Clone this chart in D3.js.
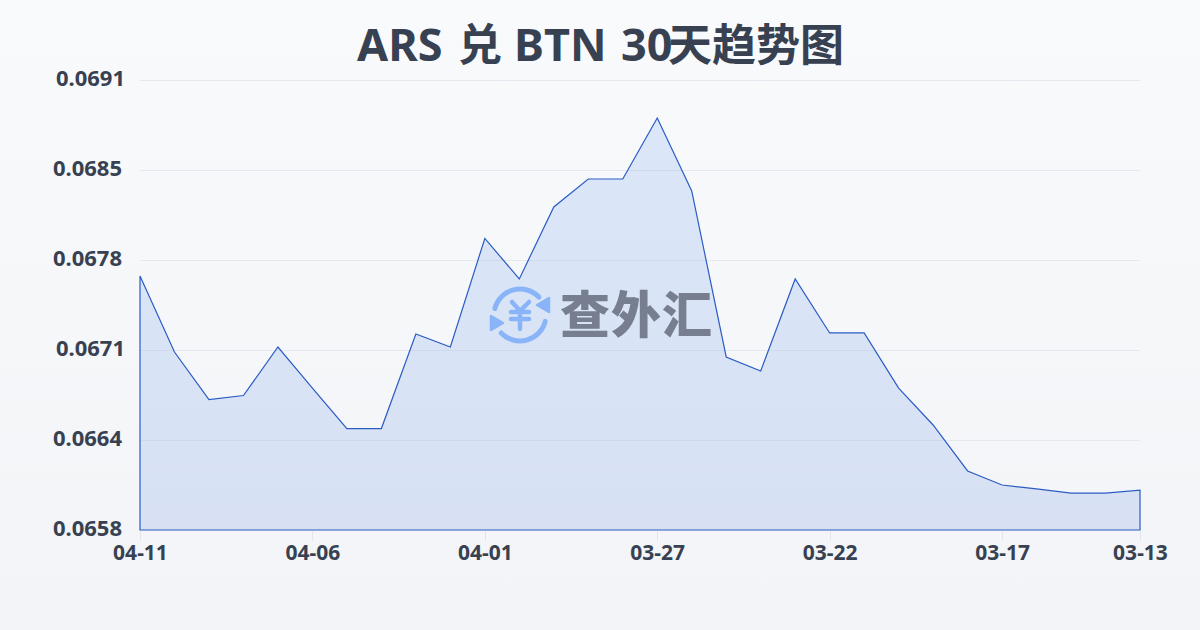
<!DOCTYPE html>
<html><head><meta charset="utf-8">
<script src="https://cdn.jsdelivr.net/npm/d3@7/dist/d3.min.js"></script>
<style>html,body{margin:0;padding:0;width:1200px;height:630px;overflow:hidden}
text{font-family:"Noto Sans","Noto Sans CJK SC",sans-serif}</style></head><body>
<svg id="c" width="1200" height="630"></svg>
<script>
const titleParts=["ARS","兑","BTN","30","天趋势图"];
const watermarkText="查外汇";
const dates=["04-11","04-10","04-09","04-08","04-07","04-06","04-05","04-04","04-03","04-02","04-01","03-31","03-30","03-29","03-28","03-27","03-26","03-25","03-24","03-23","03-22","03-21","03-20","03-19","03-18","03-17","03-16","03-15","03-14","03-13"];
const rates=[0.067663,0.067105,0.066757,0.066786,0.067142,0.066841,0.066544,0.066544,0.067237,0.067142,0.067938,0.067641,0.068169,0.068374,0.068374,0.068821,0.068286,0.067069,0.066966,0.067641,0.067245,0.067245,0.066841,0.06657,0.066233,0.06613,0.066101,0.066071,0.066071,0.066093];
const yTicks=[0.0658,0.06646,0.06712,0.06778,0.06844,0.0691];
const yLabels=["0.0658","0.0664","0.0671","0.0678","0.0685","0.0691"];
const xTickIdx=[0,5,10,15,20,25,29];

const svg=d3.select("#c");
const defs=svg.append("defs");
const bg=defs.append("linearGradient").attr("id","bg").attr("x1",0).attr("y1",0).attr("x2",0).attr("y2",1);
bg.append("stop").attr("offset",0).attr("stop-color","#f8fafc");
bg.append("stop").attr("offset",1).attr("stop-color","#f2f4f7");
const ag=defs.append("linearGradient").attr("id","ag").attr("gradientUnits","userSpaceOnUse").attr("x1",0).attr("y1",118).attr("x2",0).attr("y2",530);
ag.append("stop").attr("offset",0).attr("stop-color","#dbe6f9");
ag.append("stop").attr("offset",1).attr("stop-color","#d8e1f4");
svg.append("rect").attr("width",1200).attr("height",630).attr("fill","url(#bg)");

const x=d3.scalePoint().domain(d3.range(dates.length)).range([140,1140]);
const y=d3.scaleLinear().domain([0.0658,0.0691]).range([530,80]);

svg.append("g").selectAll("line").data(yTicks.slice(1)).join("line")
 .attr("x1",140).attr("x2",1140).attr("y1",d=>Math.round(y(d))+.5).attr("y2",d=>Math.round(y(d))+.5)
 .attr("stroke","#e5e8ee").attr("stroke-width",1);

const area=d3.area().x((d,i)=>x(i)).y0(y(0.0658)).y1(d=>y(d));
defs.append("clipPath").attr("id","areaclip").append("path").datum(rates).attr("d",area);
svg.append("path").datum(rates).attr("d",area).attr("fill","url(#ag)");
svg.append("g").attr("clip-path","url(#areaclip)").selectAll("line").data(yTicks.slice(1)).join("line")
 .attr("x1",140).attr("x2",1140).attr("y1",d=>Math.round(y(d))+.5).attr("y2",d=>Math.round(y(d))+.5)
 .attr("stroke","#cfd9ec").attr("stroke-width",1);
svg.append("path").datum(rates).attr("d",area).attr("fill","none").attr("stroke","#2b5cc4").attr("stroke-width",1.2);

svg.append("g").selectAll("line").data(xTickIdx).join("line")
 .attr("x1",i=>Math.round(x(i))+.5).attr("x2",i=>Math.round(x(i))+.5).attr("y1",531).attr("y2",541)
 .attr("stroke","#e3e5ea");

svg.append("g").selectAll("text").data(xTickIdx).join("text")
 .attr("x",i=>x(i)+.5).attr("y",560).attr("text-anchor","middle")
 .attr("font-size",21).attr("font-weight",700).attr("fill","#374151").text(i=>dates[i]);
svg.append("g").selectAll("text").data(yTicks).join("text")
 .attr("x",(d,i)=>yLabels[i].endsWith("1")?125:122).attr("y",d=>y(d)+6).attr("text-anchor","end")
 .attr("font-size",22).attr("font-weight",700).attr("fill","#374151").text((d,i)=>yLabels[i]);

// title: Latin and CJK runs are sized separately
const titleX=[357,458,514,621,668], titleSize=[45,44,45,45,44];
const title=svg.append("text").attr("y",61).attr("font-weight",700).attr("fill","#374151");
title.selectAll("tspan").data(titleParts).join("tspan")
 .attr("x",(d,i)=>titleX[i]).attr("font-size",(d,i)=>titleSize[i]).text(d=>d);

// watermark
const wm=svg.append("g");
const ic=wm.append("g").attr("transform","translate(520,315)").attr("fill","none").attr("stroke","#8ab4f8").attr("stroke-linecap","round").attr("stroke-linejoin","round");
const arc=d3.arc().innerRadius(26).outerRadius(26);
ic.append("path").attr("d",arc({startAngle:-1.32,endAngle:0.81})).attr("stroke-width",5);
ic.append("path").attr("d",arc({startAngle:1.82,endAngle:3.95})).attr("stroke-width",5);
ic.append("path").attr("d","M29 -17L29 -3L17 -10Z").attr("fill","#8ab4f8").attr("stroke-width",2.5);
ic.append("path").attr("d","M-29 15L-29 1L-17 8Z").attr("fill","#8ab4f8").attr("stroke-width",2.5);
ic.append("path").attr("d","M-8 -13L0 -4L9 -13M-9 -3H9M-9 4H9M0 -4V14").attr("stroke-width",4.5);
wm.append("text").attr("x",560).attr("y",333).attr("font-size",50).attr("font-weight",900)
 .attr("fill","#767e8f").style("font-family",'"Noto Sans CJK SC"').attr("textLength",152).text(watermarkText);
</script></body></html>
